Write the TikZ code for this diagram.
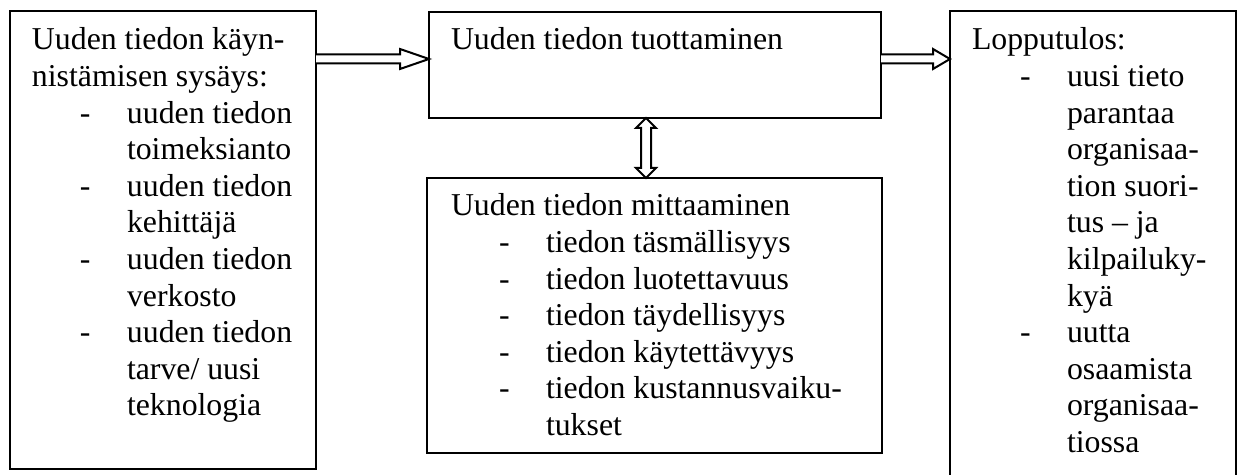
\documentclass[tikz,border=0pt]{standalone}
\usepackage{fontspec}
\setmainfont{Liberation Serif}
\usetikzlibrary{calc}
\newcommand{\bfs}{\fontsize{15.9pt}{18.3pt}\selectfont}
\newcommand{\itm}[1]{\hspace*{24pt}\makebox[23.5pt][l]{-}#1}
\newcommand{\cnt}[1]{\hspace*{47.5pt}#1}
\begin{document}
\begin{tikzpicture}[x=0.5pt,y=-0.5pt,
  box/.style={draw,line width=1pt,inner sep=0pt,outer sep=0pt},
  txt/.style={anchor=base west,inner sep=0pt,outer sep=0pt},
  blk/.style={draw,line width=1pt,fill=white,line join=miter}]
\useasboundingbox (0,0) rectangle (1243,475);
% boxes
\node[box,minimum width=153pt,minimum height=229pt] (lbox) at (163,240) {};
\node[box,minimum width=226pt,minimum height=53pt] (tbox) at (655,65) {};
\node[box,minimum width=227.5pt,minimum height=137.5pt] (bbox) at (654.5,315.5) {};
\node[box,minimum width=143pt,minimum height=233.5pt] (rbox) at (1093,244.5) {};
% texts
\node[txt] (ltxt) at (32,50) {\parbox[t]{150pt}{\bfs
Uuden tiedon käyn-\\
nistämisen sysäys:\\
\itm{uuden tiedon}\\
\cnt{toimeksianto}\\
\itm{uuden tiedon}\\
\cnt{kehittäjä}\\
\itm{uuden tiedon}\\
\cnt{verkosto}\\
\itm{uuden tiedon}\\
\cnt{tarve/ uusi}\\
\cnt{teknologia}}};
\node[txt] (ttxt) at (451,50) {\parbox[t]{215pt}{\bfs Uuden tiedon tuottaminen}};
\node[txt] (btxt) at (451,216) {\parbox[t]{215pt}{\bfs
Uuden tiedon mittaaminen\\
\itm{tiedon täsmällisyys}\\
\itm{tiedon luotettavuus}\\
\itm{tiedon täydellisyys}\\
\itm{tiedon käytettävyys}\\
\itm{tiedon kustannusvaiku-}\\
\cnt{tukset}}};
\node[txt] (rtxt) at (972,50) {\parbox[t]{135pt}{\bfs
Lopputulos:\\
\itm{uusi tieto}\\
\cnt{parantaa}\\
\cnt{organisaa-}\\
\cnt{tion suori-}\\
\cnt{tus -- ja}\\
\cnt{kilpailuky-}\\
\cnt{kyä}\\
\itm{uutta}\\
\cnt{osaamista}\\
\cnt{organisaa-}\\
\cnt{tiossa}}};
% arrow left -> top
\coordinate (a1) at ($(lbox.north east)+(0,48)$);
\coordinate (a2) at (tbox.west |- a1);
\draw[blk] ($(a1)+(0,-4.5)$) -- ($(a2)+(-29,-4.5)$) -- ($(a2)+(-29,-10)$) -- (a2)
  -- ($(a2)+(-29,10)$) -- ($(a2)+(-29,4.5)$) -- ($(a1)+(0,4.5)$);
% arrow top -> right
\coordinate (b1) at (tbox.east |- a1);
\coordinate (b2) at (rbox.west |- a1);
\draw[blk] ($(b1)+(0,-4.5)$) -- ($(b2)+(-17,-4.5)$) -- ($(b2)+(-17,-10)$) -- (b2)
  -- ($(b2)+(-17,10)$) -- ($(b2)+(-17,4.5)$) -- ($(b1)+(0,4.5)$);
% double arrow top <-> bottom
\coordinate (v1) at ($(tbox.south)+(-9,0)$);
\coordinate (v2) at (v1 |- bbox.north);
\draw[blk] (v1) -- ($(v1)+(10,10)$) -- ($(v1)+(5,10)$) -- ($(v2)+(5,-10)$) -- ($(v2)+(10,-10)$)
  -- (v2) -- ($(v2)+(-10,-10)$) -- ($(v2)+(-5,-10)$) -- ($(v1)+(-5,10)$) -- ($(v1)+(-10,10)$) -- cycle;
\end{tikzpicture}
\end{document}
